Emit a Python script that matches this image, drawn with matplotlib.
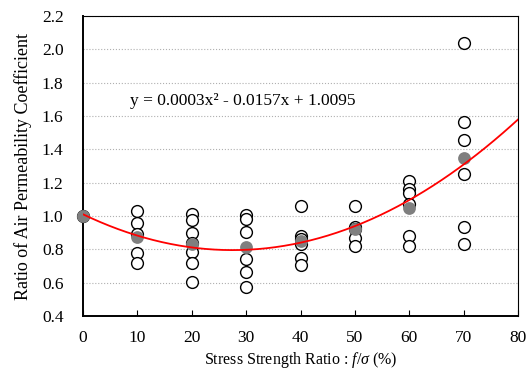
import numpy as np
import matplotlib
matplotlib.use("Agg")
import matplotlib.pyplot as plt

plt.rcParams['font.family'] = ['Liberation Serif', 'DejaVu Serif']
plt.rcParams['mathtext.fontset'] = 'custom'
plt.rcParams['mathtext.rm'] = 'Liberation Serif'
plt.rcParams['mathtext.it'] = 'Liberation Serif:italic'

# measured ratios at each stress strength ratio
ratio_pts = {
    0: [1.00],
    10: [1.03, 0.96, 0.895, 0.78, 0.72],
    20: [1.01, 0.975, 0.90, 0.84, 0.785, 0.72, 0.605],
    30: [1.005, 0.985, 0.905, 0.74, 0.665, 0.575],
    40: [1.06, 0.88, 0.86, 0.83, 0.75, 0.705],
    50: [1.06, 0.935, 0.92, 0.87, 0.82],
    60: [1.21, 1.16, 1.14, 1.07, 0.88, 0.82],
    70: [2.04, 1.565, 1.455, 1.255, 0.935, 0.83],
}
stress = [0, 10, 20, 30, 40, 50, 60, 70]
means = [1.00, 0.877, 0.833, 0.812, 0.85, 0.921, 1.05, 1.346]

fig = plt.figure(figsize=(5.32, 3.71), dpi=100)
ax = fig.add_axes([0.156, 0.148, 0.818, 0.809])

for x in stress:
    ys = ratio_pts[x]
    ax.plot([x] * len(ys), ys, 'o', ms=8.5, mfc='white', mec='black', mew=1.0,
            zorder=3, clip_on=False)
ax.plot(stress, means, 'o', ms=9.2, color='#7f7f7f', mec='none', zorder=4,
        clip_on=False)

# 2nd order fit of the mean values
coef = np.polyfit(stress, means, 2)
xs = np.linspace(0, 80, 200)
ax.plot(xs, np.polyval(coef, xs), color='red', lw=1.3, zorder=5)

ax.text(8.6, 1.69, 'y = 0.0003x² - 0.0157x + 1.0095', fontsize=12.5, va='center')

ax.set_xlim(0, 80)
ax.set_ylim(0.4, 2.2)
ax.set_xticks(range(0, 81, 10))
ax.set_yticks(np.arange(0.4, 2.21, 0.2))
ax.set_yticklabels([f'{v:.1f}' for v in np.arange(0.4, 2.21, 0.2)])
ax.yaxis.grid(True, color='#b0b0b0', ls=':', lw=0.8)
ax.set_axisbelow(True)
ax.tick_params(axis='x', direction='in', length=4, labelsize=12.5, pad=10)
ax.tick_params(axis='y', length=0, labelsize=12.5, pad=14)
for s in ax.spines.values():
    s.set_color('black')
ax.spines['left'].set_linewidth(1.4)
ax.spines['bottom'].set_linewidth(1.4)

ax.set_xlabel('Stress Strength Ratio : $\\mathit{f/\\sigma}$ (%)', fontsize=11.5, labelpad=3)
ax.set_ylabel('Ratio of Air Permeability Coefficient', fontsize=13, labelpad=7)

fig.savefig('out.png', dpi=100)
